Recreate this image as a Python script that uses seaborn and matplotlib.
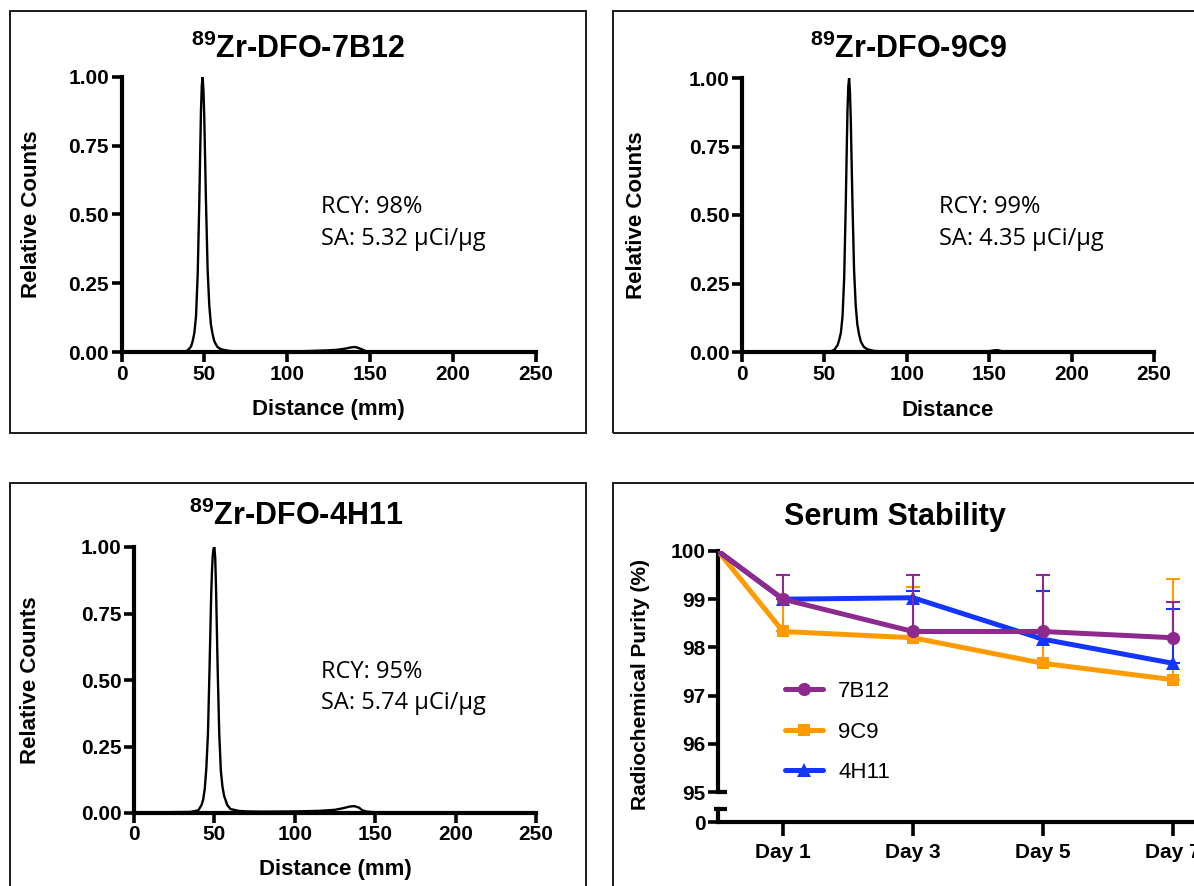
import numpy as np
import pandas as pd
import matplotlib
matplotlib.use("Agg")
import matplotlib.pyplot as plt
from matplotlib.lines import Line2D
from matplotlib.patches import Rectangle
import seaborn as sns

# ---------------- data ----------------
dist_7b12 = [35, 38, 40, 42, 43, 44, 45, 46, 47, 47.5, 48, 48.5, 49, 49.5, 50, 50.5, 51, 52, 53,
             54, 55, 56, 57, 58, 60, 65, 70, 80, 90, 100, 110, 120, 125, 130, 135, 138, 140,
             142, 145, 148, 150]
counts_7b12 = [0, 0.002, 0.006, 0.02, 0.04, 0.07, 0.13, 0.28, 0.55, 0.72, 0.88, 0.97, 1.0, 0.95,
               0.85, 0.7, 0.55, 0.3, 0.17, 0.1, 0.065, 0.04, 0.028, 0.018, 0.01, 0.004, 0.002,
               0.001, 0.001, 0.002, 0.003, 0.005, 0.006, 0.008, 0.012, 0.016, 0.018, 0.017,
               0.01, 0.002, 0]

dist_9c9 = [50, 54, 56, 58, 59, 60, 61, 62, 63, 63.5, 64, 64.5, 65, 65.5, 66, 66.5, 67, 68, 69,
            70, 71, 72, 73, 74, 76, 80, 85, 90, 100, 120, 140, 150, 153, 155, 157, 160]
counts_9c9 = [0, 0.003, 0.008, 0.025, 0.045, 0.07, 0.13, 0.27, 0.55, 0.72, 0.88, 0.97, 1.0, 0.95,
              0.85, 0.7, 0.55, 0.3, 0.17, 0.1, 0.065, 0.04, 0.028, 0.018, 0.01, 0.004, 0.002,
              0.001, 0, 0, 0.001, 0.003, 0.006, 0.007, 0.004, 0]

dist_4h11 = [5, 20, 35, 40, 42, 43, 44, 45, 46, 47, 48, 48.5, 49, 49.5, 50, 50.5, 51, 51.5, 52,
             53, 54, 55, 56, 58, 60, 65, 70, 80, 100, 115, 125, 130, 134, 137, 140, 142, 145,
             150, 170, 200, 215]
counts_4h11 = [0.003, 0.003, 0.004, 0.01, 0.03, 0.05, 0.09, 0.17, 0.3, 0.55, 0.82, 0.91, 0.97,
               0.995, 1.0, 0.96, 0.85, 0.7, 0.55, 0.3, 0.16, 0.1, 0.065, 0.03, 0.015, 0.008,
               0.006, 0.005, 0.006, 0.008, 0.012, 0.018, 0.024, 0.026, 0.02, 0.01, 0.005,
               0.003, 0.002, 0.002, 0.001]

chrom_titles = [r"$^{89}$Zr-DFO-7B12", r"$^{89}$Zr-DFO-9C9", r"$^{89}$Zr-DFO-4H11"]
chrom_xlabels = ["Distance (mm)", "Distance", "Distance (mm)"]
rcy_texts = ["RCY: 98%", "RCY: 99%", "RCY: 95%"]
sa_texts = ["SA: 5.32 µCi/µg", "SA: 4.35 µCi/µg", "SA: 5.74 µCi/µg"]
dist_ticks = [0, 50, 100, 150, 200, 250]
count_ticks = [0.0, 0.25, 0.5, 0.75, 1.0]

days = [0, 1, 3, 5, 7]
day_ticks = [1, 3, 5, 7]
day_labels = ["Day 1", "Day 3", "Day 5", "Day 7"]
series_names = ["7B12", "9C9", "4H11"]
purity_7b12 = [100, 99.0, 98.33, 98.33, 98.2]
purity_9c9 = [100, 98.33, 98.2, 97.67, 97.33]
purity_4h11 = [100, 99.0, 99.03, 98.17, 97.67]
err_7b12 = [0, 0.5, 1.17, 1.17, 0.74]
err_9c9 = [0, 0.67, 1.05, 1.5, 2.09]
err_4h11 = [0, 0, 0.14, 1.0, 1.13]
purity_ticks = [95, 96, 97, 98, 99, 100]

# ---------------- style ----------------
sns.set_style("white")
plt.rcParams["font.family"] = ["Liberation Sans", "DejaVu Sans"]
plt.rcParams["mathtext.fontset"] = "custom"
plt.rcParams["mathtext.rm"] = "Liberation Sans:bold"
plt.rcParams["mathtext.bf"] = "Liberation Sans:bold"
plt.rcParams["mathtext.default"] = "rm"
plt.rcParams["text.color"] = "black"
plt.rcParams["axes.labelcolor"] = "black"
plt.rcParams["xtick.color"] = "black"
plt.rcParams["ytick.color"] = "black"

W, H = 1194, 886
fig = plt.figure(figsize=(W / 100, H / 100), dpi=100)
fig.patch.set_facecolor("white")


def axes_px(x0, x1, ytop, ybot):
    return fig.add_axes([x0 / W, 1 - ybot / H, (x1 - x0) / W, (ybot - ytop) / H])


def box_px(x0, x1, ytop, ybot):
    fig.add_artist(Rectangle((x0 / W, 1 - ybot / H), (x1 - x0) / W, (ybot - ytop) / H,
                             transform=fig.transFigure, fill=False, lw=1.4,
                             edgecolor="#1a1a1a", clip_on=False))


def ftext(xp, yp, s, **kw):
    fig.text(xp / W, 1 - yp / H, s, **kw)


def style_axis(ax):
    for side in ["top", "right"]:
        ax.spines[side].set_visible(False)
    for side in ["left", "bottom"]:
        ax.spines[side].set_linewidth(3.0)
        ax.spines[side].set_color("black")
    ax.tick_params(direction="out", length=7, width=2.6, labelsize=15, pad=2,
                   colors="black", left=True, bottom=True)
    for lab in ax.get_xticklabels() + ax.get_yticklabels():
        lab.set_fontweight("bold")


chrom_data = [(dist_7b12, counts_7b12), (dist_9c9, counts_9c9), (dist_4h11, counts_4h11)]
geom = [(121.5, 535.5, 77, 352), (742, 1154, 78, 352), (134, 536, 547, 813)]
boxes = [(10, 586, 11, 433), (613, 1220, 11, 433), (10, 586, 483, 900)]
title_pos = [(298, 58), (908, 58), (296, 525)]
ylabel_x = [32, 636, 31]
xlabel_y = [410, 410, 870]
ann_pos = [(321, 213, 245), (939, 213, 245), (321, 678, 709)]

for i in range(3):
    box_px(*boxes[i])
    x0, x1, yt, yb = geom[i]
    ax = axes_px(x0, x1, yt, yb)
    df = pd.DataFrame({"Distance": chrom_data[i][0], "Counts": chrom_data[i][1]})
    sns.lineplot(data=df, x="Distance", y="Counts", ax=ax, color="black", lw=1.7)
    ax.set_xlim(0, 250)
    ax.set_ylim(0, 1)
    ax.set_xticks(dist_ticks)
    ax.set_yticks(count_ticks)
    ax.set_yticklabels([f"{v:.2f}" for v in count_ticks])
    ax.set_xticklabels([str(v) for v in dist_ticks])
    style_axis(ax)
    ax.set_xlabel(chrom_xlabels[i], fontsize=16, fontweight="bold")
    ax.set_ylabel("Relative Counts", fontsize=16, fontweight="bold")
    ax.xaxis.label.set_va("center")
    ax.yaxis.label.set_va("center")
    ax.xaxis.set_label_coords(0.5, -(xlabel_y[i] - yb) / (yb - yt))
    ax.yaxis.set_label_coords((ylabel_x[i] - x0) / (x1 - x0), 0.5)
    ftext(title_pos[i][0], title_pos[i][1], chrom_titles[i], fontsize=22,
          fontweight="bold", ha="center", va="baseline")
    ax_x, b1, b2 = ann_pos[i]
    ftext(ax_x, b1, rcy_texts[i], fontsize=17, family="Open Sans", va="baseline")
    ftext(ax_x, b2, sa_texts[i], fontsize=17, family="Open Sans", va="baseline")

# ---------------- serum stability ----------------
box_px(613, 1220, 483, 900)
px_per_day = 65
xmax = 7.6
x0 = 718
ax_top = axes_px(x0, x0 + xmax * px_per_day, 551, 792)
ax_bot = axes_px(x0, x0 + xmax * px_per_day, 809, 822)

colors = {"7B12": "#8E2A8E", "9C9": "#FF9A00", "4H11": "#1236FF"}
markers = {"7B12": "o", "9C9": "s", "4H11": "^"}
msizes = {"7B12": 9.5, "9C9": 8.5, "4H11": 9.5}
values = {"7B12": purity_7b12, "9C9": purity_9c9, "4H11": purity_4h11}
errors = {"7B12": err_7b12, "9C9": err_9c9, "4H11": err_4h11}

for z, name in enumerate(["9C9", "4H11", "7B12"]):
    c = colors[name]
    df = pd.DataFrame({"Day": days, "Purity": values[name]})
    sns.lineplot(data=df, x="Day", y="Purity", ax=ax_top, color=c, lw=3.6,
                 marker=markers[name], markersize=msizes[name], markeredgecolor=c,
                 markeredgewidth=0, markevery=[1, 2, 3, 4], zorder=3 + z)
    d = np.array(days, dtype=float)
    v = np.array(values[name], dtype=float)
    e = np.array(errors[name], dtype=float)
    m = e > 0
    ax_top.errorbar(d[m], v[m], yerr=[np.zeros(m.sum()), e[m]], fmt="none", ecolor=c,
                    elinewidth=1.5, capsize=4.8, capthick=1.5, zorder=3 + z)

ax_top.set_xlim(0, xmax)
ax_top.set_ylim(95, 100)
ax_top.set_yticks(purity_ticks)
ax_top.set_yticklabels([str(v) for v in purity_ticks])
ax_top.set_xticks([])
ax_top.set_xlabel("")
ax_top.set_ylabel("")
style_axis(ax_top)
ax_top.spines["bottom"].set_visible(False)

ax_bot.set_xlim(0, xmax)
ax_bot.set_ylim(0, 1)
ax_bot.set_yticks([0])
ax_bot.set_yticklabels(["0"])
ax_bot.set_xticks(day_ticks)
ax_bot.set_xticklabels(day_labels)
style_axis(ax_bot)
ax_bot.tick_params(axis="x", length=10, pad=5)

# break marks on the y axis
wpx = xmax * px_per_day
ax_top.plot([0, 9 / wpx], [0, 0], transform=ax_top.transAxes, color="black",
            lw=3.0, clip_on=False, solid_capstyle="butt")
ax_bot.plot([-4 / wpx, 9 / wpx], [1, 1], transform=ax_bot.transAxes, color="black",
            lw=3.0, clip_on=False, solid_capstyle="butt")

ftext(895, 525, "Serum Stability", fontsize=22, fontweight="bold", ha="center", va="baseline")
ftext(640, 685, "Radiochemical Purity (%)", fontsize=15, fontweight="bold", rotation=90,
      ha="center", va="center")

handles = [Line2D([0], [0], color=colors[n], lw=3.6, marker=markers[n],
                  markersize=msizes[n], markeredgewidth=0) for n in series_names]
leg = fig.legend(handles, series_names, loc="upper left",
                 bbox_to_anchor=(785 / W, 1 - 681 / H), bbox_transform=fig.transFigure,
                 frameon=False, fontsize=16, handlelength=1.7, handletextpad=0.7,
                 labelspacing=0.88, borderpad=0, borderaxespad=0)

fig.savefig("out.png", dpi=100, facecolor="white")
